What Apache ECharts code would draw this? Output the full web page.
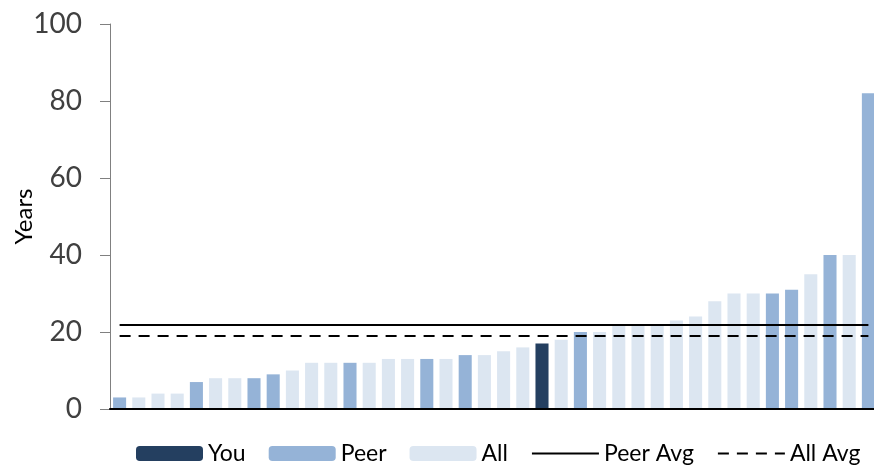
<!DOCTYPE html>
<html>
<head>
<meta charset="utf-8">
<script src="https://cdn.jsdelivr.net/npm/echarts@6/dist/echarts.min.js"></script>
<style>
  html, body { margin: 0; padding: 0; background: #fff; }
  #chart { width: 874px; height: 466px; }
</style>
</head>
<body>
<div id="chart"></div>
<script>
  // sorted values, one bar each
  var values = [3, 3, 4, 4, 7, 8, 8, 8, 9, 10, 12, 12, 12, 12, 13, 13, 13, 13, 14, 14,
    15, 16, 17, 18, 20, 20, 22, 22, 22, 23, 24, 28, 30, 30, 30, 31, 35, 40, 40, 82];
  // which group each bar belongs to
  var groups = ['Peer', 'All', 'All', 'All', 'Peer', 'All', 'All', 'Peer', 'Peer', 'All',
    'All', 'All', 'Peer', 'All', 'All', 'All', 'Peer', 'All', 'Peer', 'All',
    'All', 'All', 'You', 'All', 'Peer', 'All', 'All', 'All', 'All', 'All',
    'All', 'All', 'All', 'All', 'Peer', 'Peer', 'All', 'Peer', 'All', 'Peer'];
  var categories = values.map(function (v, i) { return 'C' + (i + 1); });
  var peerAvg = 22;
  var allAvg = 19;
  var yTicks = [0, 20, 40, 60, 80, 100];

  var colors = { You: '#243F60', Peer: '#95B3D7', All: '#DCE6F1' };
  var font = 'Lato, "Open Sans", sans-serif';

  /*one bar series per group, overlapped in the same slot*/
  function barSeries(name) {
    return {
      name: name,
      type: 'bar',
      barGap: '-100%',
      barCategoryGap: '32%',
      itemStyle: { color: colors[name] },
      data: values.map(function (v, i) { return groups[i] === name ? v : '-'; })
    };
  }

  /*average line drawn from first to last bar*/
  function avgSeries(name, value, dash) {
    return {
      name: name,
      type: 'line',
      data: [],
      symbol: 'none',
      itemStyle: { color: '#000' },
      lineStyle: { color: '#000', width: 2, type: dash },
      markLine: {
        silent: true,
        symbol: 'none',
        label: { show: false },
        lineStyle: { color: '#000', width: 2, type: dash },
        data: [[{ coord: [categories[0], value] }, { coord: [categories[categories.length - 1], value] }]]
      }
    };
  }

  var myChart = echarts.init(document.getElementById('chart'));
  myChart.setOption({
    animation: false,
    grid: { left: 110, right: -4, top: 24, bottom: 57, outerBoundsMode: 'none', containLabel: false },
    legend: {
      left: 131,
      top: 437,
      width: 743,
      itemWidth: 67,
      itemHeight: 15,
      itemGap: 23,
      textStyle: { fontSize: 23, color: '#000', fontFamily: font },
      data: ['You', 'Peer', 'All',
        { name: 'Peer Avg', itemStyle: { opacity: 0 } },
        { name: 'All Avg', itemStyle: { opacity: 0 } }]
    },
    xAxis: {
      type: 'category',
      data: categories,
      z: 5,
      axisLine: { lineStyle: { color: '#000', width: 2 } },
      axisTick: { show: false },
      axisLabel: { show: false }
    },
    yAxis: {
      type: 'value',
      min: yTicks[0],
      max: yTicks[yTicks.length - 1],
      interval: yTicks[1] - yTicks[0],
      name: 'Years',
      nameLocation: 'middle',
      nameMoveOverlap: false,
      nameGap: 74,
      nameTextStyle: { fontSize: 24, color: '#000', fontFamily: font },
      axisLine: { show: true, lineStyle: { color: '#808080', width: 1 } },
      axisTick: { show: true, length: 10, lineStyle: { color: '#808080' } },
      axisLabel: { fontSize: 28, color: '#404040', margin: 28, fontFamily: font },
      splitLine: { show: false }
    },
    series: [
      barSeries('You'),
      barSeries('Peer'),
      barSeries('All'),
      avgSeries('Peer Avg', peerAvg, 'solid'),
      avgSeries('All Avg', allAvg, [11, 8])
    ]
  });
</script>
</body>
</html>
